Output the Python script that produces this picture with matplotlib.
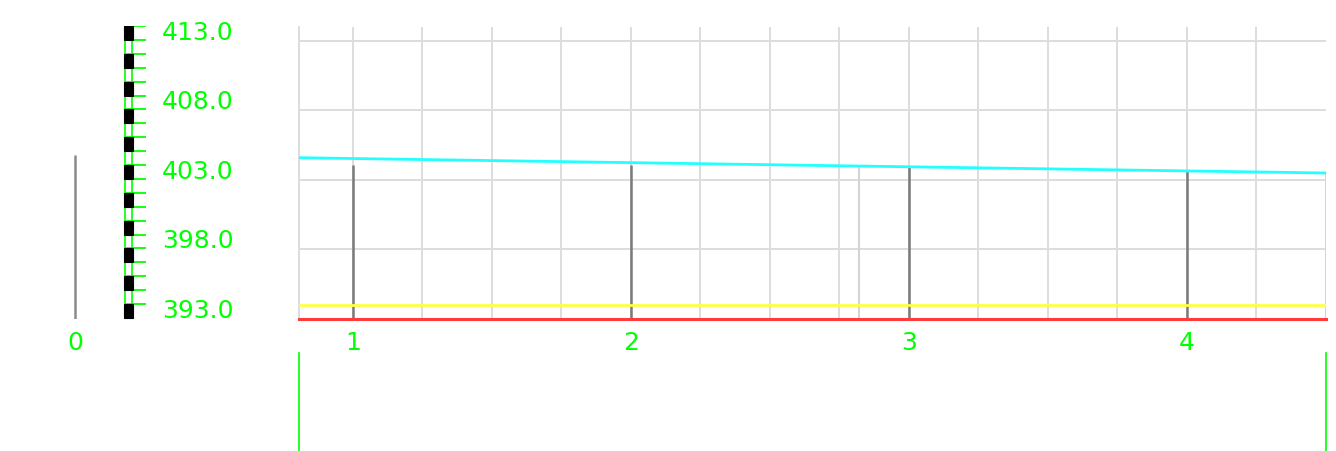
import matplotlib
matplotlib.use("Agg")
import matplotlib.pyplot as plt
import numpy as np

# ---- data ----
x_ticks = [1, 2, 3, 4]
x_tick_labels = ["1", "2", "3", "4"]
stem_x = [1, 2, 3, 4]
stem_top = [404.1, 404.1, 404.0, 403.7]
light_stem_x = [2.82, 4.5]
light_stem_top = [404.1, 403.5]
cyan_x = [0.806, 4.5]
cyan_y = [404.6, 403.5]
yellow_level = 394.0
red_level = 393.0
y_labels = [393.0, 398.0, 403.0, 408.0, 413.0]
left_bar_top = 404.8
left_label = "0"

W, H = 1336, 451
GREEN = "#00ff00"
FS = 18
FONT = dict(family="DejaVu Sans", fontweight="normal")

fig = plt.figure(figsize=(W / 100, H / 100), dpi=100)

def ax_px(x0, y0, x1, y1):
    return fig.add_axes([x0 / W, 1 - y1 / H, (x1 - x0) / W, (y1 - y0) / H])

# ---- main axes ----
ax = ax_px(299, 27, 1326, 319)
ax.set_xlim(0.806, 4.5)
ax.set_ylim(393.0, 414.0)
ax.set_xticks(x_ticks)
ax.set_xticklabels(x_tick_labels, color=GREEN, fontsize=FS, **FONT)
ax.set_xticks(np.arange(1.0, 4.5, 0.25), minor=True)
ax.set_yticks([398, 403, 408, 413])
ax.set_yticklabels([])
ax.tick_params(axis="both", which="both", length=0, pad=9)
ax.grid(True, which="both", color="#dddddd", lw=1.4)
ax.set_axisbelow(True)
for s in ["top", "right", "bottom"]:
    ax.spines[s].set_visible(False)
ax.spines["left"].set_color("#dddddd")
ax.spines["left"].set_linewidth(1.4)

ax.vlines(light_stem_x, red_level, light_stem_top, color="#d4d4d4", lw=1.5, zorder=2)
ax.vlines(stem_x, red_level, stem_top, color="#7a7a7a", lw=1.8, zorder=3)
ax.plot(cyan_x, cyan_y, color="#22ffff", lw=2.0, zorder=4, solid_capstyle="butt")
ax.axhline(yellow_level, color="#ffff44", lw=2.0, zorder=4)
ax.axhline(red_level, color="#ff3b3b", lw=2.2, zorder=5, clip_on=False)

# ---- ruler axes ----
rax = ax_px(120, 26, 150, 320)
rax.set_xlim(120, 150)
rax.set_ylim(392.35, 413.5)
rax.axis("off")
tick_vals = np.arange(393.5, 413.6, 1.0)
rax.hlines(tick_vals, 132, 146, color=GREEN, lw=1.3, zorder=2)
white_centers = np.arange(394.0, 413.1, 2.0)
black_centers = np.arange(393.0, 413.1, 2.0)
rax.barh(white_centers, 7.5, height=1.0, left=124.8, facecolor="white",
         edgecolor=GREEN, lw=1.2, zorder=3)
rax.barh(black_centers, 8.6, height=1.0, left=124.2, facecolor="black",
         edgecolor="black", lw=0.8, zorder=4)
for v in y_labels:
    rax.text(162, v, f"{v:.1f}", color=GREEN, fontsize=FS, ha="left", va="center",
             clip_on=False, **FONT)

# ---- left single bar axes ----
lax = ax_px(55, 27, 95, 319)
lax.set_xlim(-1, 1)
lax.set_ylim(393.0, 414.0)
lax.vlines([0], 393.0, left_bar_top, color="#8a8a8a", lw=1.8)
lax.set_xticks([0])
lax.set_xticklabels([left_label], color=GREEN, fontsize=FS, **FONT)
lax.set_yticks([])
lax.tick_params(axis="x", length=0, pad=9)
for s in lax.spines.values():
    s.set_visible(False)

# ---- lower panel ----
bax = ax_px(299, 353, 1326, 452)
bax.set_xticks([])
bax.set_yticks([])
for s in ["top", "bottom"]:
    bax.spines[s].set_visible(False)
for s in ["left", "right"]:
    bax.spines[s].set_color(GREEN)
    bax.spines[s].set_linewidth(1.2)

fig.savefig("out.png", dpi=100)
